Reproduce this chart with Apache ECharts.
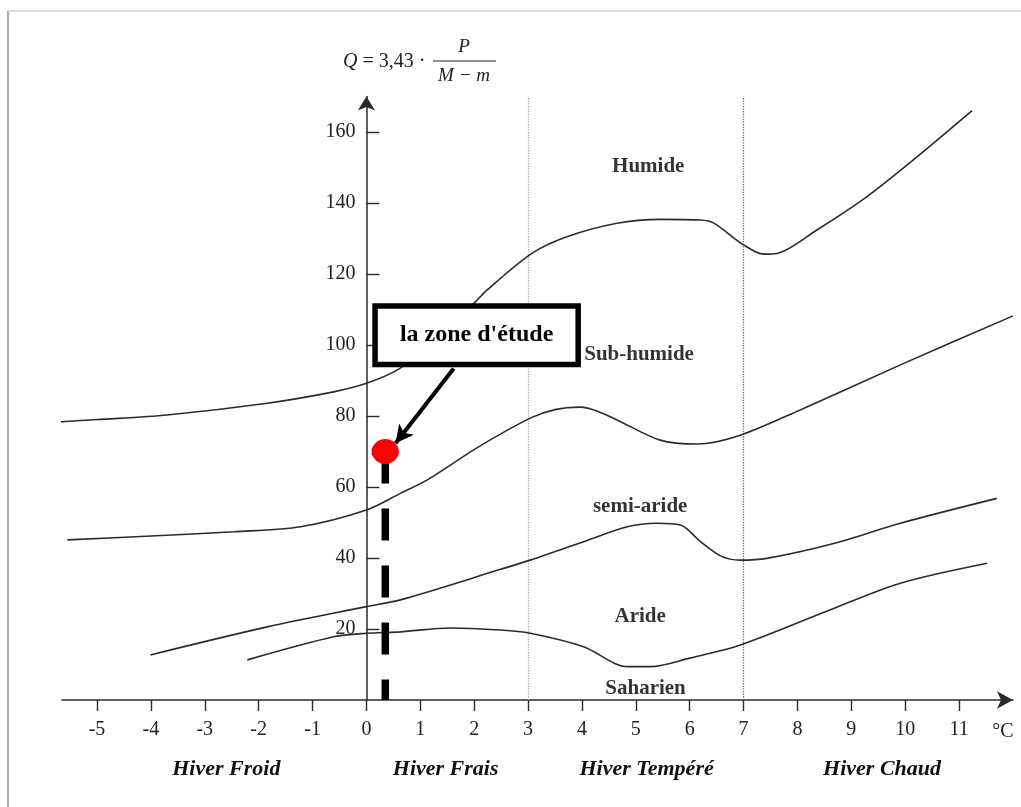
<!DOCTYPE html>
<html>
<head>
<meta charset="utf-8">
<script src="https://cdn.jsdelivr.net/npm/echarts@6/dist/echarts.min.js"></script>
<style>
html,body{margin:0;padding:0;background:#fff;}
#chart{width:1021px;height:807px;}
</style>
</head>
<body>
<div id="chart"></div>
<script>
// ---- data ----
const xTicks = [-5,-4,-3,-2,-1,0,1,2,3,4,5,6,7,8,9,10,11];
const yTicks = [20,40,60,80,100,120,140,160];
const boundaries = [3,7];
const hiverNames = ['Hiver Froid','Hiver Frais','Hiver Tempéré','Hiver Chaud'];
const hiverX = [-2.6, 1.47, 5.2, 9.57];
const zoneNames = ['Humide','Sub-humide','semi-aride','Aride','Saharien'];
const zoneX = [5.23, 5.06, 5.08, 5.08, 5.18];
const zoneY = [150.4, 97.2, 54.6, 23.4, 3.1];

const curveHumide = [[-6.36,77.7],[-5.0,79.0],[-3.7,80.3],[-1.84,83.6],[-0.61,86.8],[0,89.2],[0.6,93.2],[1.0,98.5],[1.5,105.5],[1.99,111.7],[2.24,115.5],[3.07,125.8],[3.72,130.5],[4.65,134.3],[5.45,135.4],[6.2,135.2],[6.44,134.4],[7.0,128.2],[7.37,125.6],[7.62,125.8],[8.36,132.4],[9.29,141.8],[10.22,153],[11.24,166]];
const curveSubHumide = [[-5.55,45.1],[-4.0,46.2],[-2.46,47.4],[-1.22,48.8],[0,53.5],[0.63,58.2],[1.13,62],[2.08,71.3],[3.04,79.4],[3.5,81.8],[3.97,82.5],[4.3,81.3],[4.65,78.9],[5.45,73.2],[6.14,72.1],[6.94,74.6],[8.05,81.7],[9.91,94.4],[12.0,108.2]];
const curveSemiAride = [[-4.01,12.7],[-1.84,20.6],[0,26.3],[0.63,28.2],[2.49,36.8],[3.04,39.4],[4.03,44.6],[4.84,48.8],[5.39,49.8],[5.83,49.3],[6.2,44.6],[6.57,40.6],[6.94,39.4],[7.43,39.9],[8.67,44.1],[9.91,49.8],[11.7,56.8]];
const curveAride = [[-2.21,11.3],[-0.61,17.8],[0,18.8],[0.63,19.2],[1.56,20.3],[2.49,19.7],[3.04,18.8],[4.03,15.0],[4.84,9.4],[5.27,9.4],[6.0,11.8],[6.94,15.5],[8.67,25.8],[9.91,32.9],[11.52,38.5]];

const studyX = 0.35;
const studyQ = 70;
const boxLabel = "la zone d'étude";
const boxCorners = [[0.16,111.0],[3.93,94.5]];
const arrowFrom = [1.62,93.4];
const arrowTo = [0.54,72.3];

// ---- chart ----
const FONT = '"Liberation Serif","Times New Roman",serif';
const X_MIN = -5.65, X_MAX = 12, GRID_L = 62, GRID_R = 8;
const chart = echarts.init(document.getElementById('chart'));
const plotW = 1021 - GRID_L - GRID_R;
const yAxisOffset = -(0 - X_MIN) / (X_MAX - X_MIN) * plotW;   // put y axis at x = 0
const curveStyle = {color:'#2b2b2b', width:1.6};
function curve(d){
  return {type:'line', data:d, showSymbol:false, smooth:0.3, clip:false, silent:true, z:2,
          lineStyle:curveStyle, xAxisIndex:0, yAxisIndex:0};
}

chart.setOption({
  animation:false,
  backgroundColor:'#fff',
  grid:{left:GRID_L, right:GRID_R, top:96.5, bottom:107, containLabel:false},
  xAxis:[{
    type:'value', min:X_MIN, max:X_MAX, position:'bottom',
    name:'°C', nameLocation:'end', nameGap:-10,
    nameTextStyle:{fontFamily:FONT, fontSize:20, color:'#222', align:'center', verticalAlign:'top', padding:[22,0,0,0]},
    axisLine:{show:true, onZero:false, symbol:['none','arrow'], symbolSize:[13,16], lineStyle:{color:'#2b2b2b', width:1.5}},
    axisTick:{show:true, inside:false, length:11, customValues:xTicks, lineStyle:{color:'#2b2b2b', width:1.4}},
    axisLabel:{show:true, customValues:xTicks, margin:20, fontFamily:FONT, fontSize:20, color:'#222', formatter:v=>String(v)},
    splitLine:{show:false}
  },{
    type:'value', min:X_MIN, max:X_MAX, position:'bottom',
    axisLine:{show:false, onZero:false}, axisTick:{show:false},
    axisLabel:{show:true, customValues:hiverX, margin:58, fontFamily:FONT, fontSize:22, fontStyle:'italic', fontWeight:'bold', color:'#111',
      formatter:v=>hiverNames[hiverX.indexOf(v)]},
    splitLine:{show:false}
  }],
  yAxis:{
    type:'value', min:0, max:170, position:'left', offset:yAxisOffset,
    axisLine:{show:true, onZero:false, symbol:['none','arrow'], symbolSize:[13,14], lineStyle:{color:'#2b2b2b', width:1.5}},
    axisTick:{show:true, inside:true, length:13, customValues:yTicks, lineStyle:{color:'#2b2b2b', width:1.4}},
    axisLabel:{show:true, customValues:yTicks, margin:11, fontFamily:FONT, fontSize:20, color:'#222'},
    splitLine:{show:false}
  },
  graphic:[
    {type:'line', shape:{x1:8,y1:11,x2:8,y2:807}, style:{stroke:'#8c8c8c', lineWidth:1.5}, silent:true},
    {type:'line', shape:{x1:8,y1:11,x2:1021,y2:11}, style:{stroke:'#cfcfcf', lineWidth:1.5}, silent:true},
    {type:'text', x:343, y:62, style:{text:'{q|Q} = 3,43 ·', fontFamily:FONT, fontSize:20, fill:'#222', verticalAlign:'middle',
       rich:{q:{fontFamily:FONT, fontSize:20, fontStyle:'italic', fill:'#222'}}}, silent:true},
    {type:'text', x:464, y:47, style:{text:'P', fontFamily:FONT, fontSize:19, fontStyle:'italic', fill:'#222', align:'center', verticalAlign:'middle'}, silent:true},
    {type:'line', shape:{x1:433,y1:61,x2:496,y2:61}, style:{stroke:'#222', lineWidth:1.2}, silent:true},
    {type:'text', x:464, y:76, style:{text:'M − m', fontFamily:FONT, fontSize:19, fontStyle:'italic', fill:'#222', align:'center', verticalAlign:'middle'}, silent:true}
  ],
  series:[
    curve(curveHumide),
    curve(curveSubHumide),
    curve(curveSemiAride),
    curve(curveAride),
    {type:'line', data:[], xAxisIndex:1, yAxisIndex:0, silent:true},
    {type:'line', data:[], silent:true, z:1,
     markLine:{silent:true, z:1, symbol:['none','none'], label:{show:false},
       lineStyle:{type:'dotted', width:1.3, color:'#888'},
       data:boundaries.map((b,i)=>({xAxis:b, lineStyle:{color: i===0 ? '#aaaaaa' : '#6a6a6a'}}))}},
    {type:'scatter', silent:true, z:3, symbolSize:0,
     data:zoneNames.map((n,i)=>[zoneX[i], zoneY[i], n]),
     label:{show:true, position:'inside', formatter:p=>p.data[2], fontFamily:FONT, fontSize:21, fontWeight:'bold', color:'#000'}},
    {type:'line', silent:true, z:4, showSymbol:false, clip:false,
     data:[[studyX,studyQ],[studyX,0]],
     lineStyle:{color:'#000', width:7.5, type:[32,25], cap:'butt'}},
    {type:'line', silent:true, z:4, showSymbol:false,
     data:[[0.1,studyQ],[studyX,studyQ]],
     lineStyle:{color:'#000', width:7, type:'solid'}},
    {type:'scatter', silent:true, z:12, symbol:'circle', symbolSize:[27,25],
     itemStyle:{color:'#ff0000', opacity:1},
     data:[[studyX, studyQ]],
     markArea:{silent:true, z:10,
       itemStyle:{color:'#ffffff', opacity:1, borderColor:'#000', borderWidth:5.5},
       label:{show:true, position:'inside', formatter:boxLabel, fontFamily:FONT, fontSize:24, fontWeight:'bold', color:'#000'},
       data:[[{coord:boxCorners[0]},{coord:boxCorners[1]}]]},
     markLine:{silent:true, z:11, symbol:['none','arrow'], symbolSize:[14,18], label:{show:false},
       lineStyle:{color:'#000', width:4, type:'solid'},
       data:[[{coord:arrowFrom},{coord:arrowTo}]]}}
  ]
});
</script>
</body>
</html>
